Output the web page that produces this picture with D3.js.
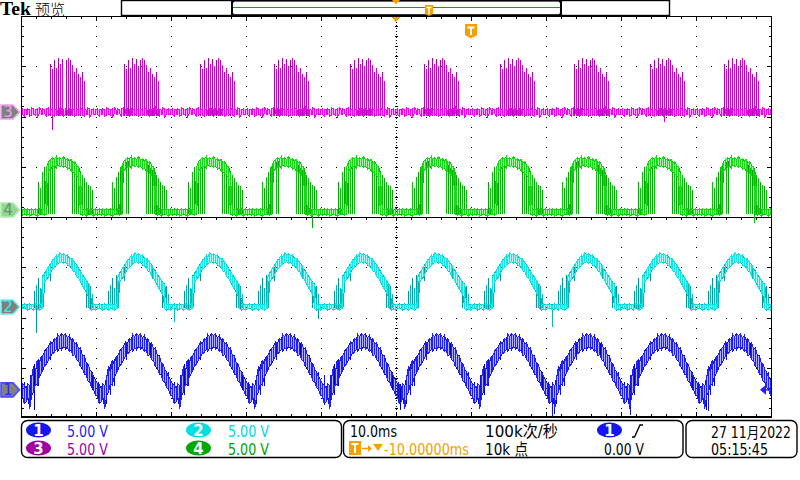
<!DOCTYPE html>
<html><head><meta charset="utf-8">
<script src="https://cdn.jsdelivr.net/npm/d3@7"></script>
<style>html,body{margin:0;padding:0;background:#fff;}svg{display:block}</style>
</head><body><svg id="c" width="800" height="480"></svg>
<script>
// ---------------- DATA ----------------
// time of each waveform cycle start (ms on a 0..100 ms screen, 10 ms/div)
const cycleStartMs = [-9.33, 0.67, 10.67, 20.67, 30.67, 40.67, 50.67, 60.67, 70.67, 80.67, 90.67];
const phaseStepMs = 0.25;               // spacing of samples inside one cycle
const voltsPerDiv = [5, 5, 5, 5];       // CH1..CH4
const channelOffsetDiv = [-3.44, -1.79, 2.09, 0.14]; // ground marker positions (div from centre)

// CH1 (blue) envelope per sample, volts
const ch1Lo = [-1.2,-0.8,-1.9,-0.6,-0.2,0.6,0.5,1.2,1.6,2.0,2.4,2.6,3.0,3.3,3.6,3.7,4.0,3.9,4.2,4.0,4.3,4.1,4.2,3.8,3.9,3.4,3.5,3.0,2.9,2.3,2.2,1.6,1.5,0.9,0.8,0.2,0.1,-0.6,-0.5,-1.4];
const ch1Hi = [0.2,0.6,0.4,1.2,2.4,1.8,3.0,2.6,3.3,3.4,3.9,4.1,4.3,4.8,4.6,5.1,5.0,5.5,5.3,5.6,5.4,5.6,5.2,5.4,5.0,5.1,4.6,4.7,4.1,4.2,3.5,3.4,2.8,2.6,2.0,1.8,1.3,1.0,0.6,0.5];
const ch1Spikes = [[0.6,-1.4,1.5],[1.1,-0.5,2.6],[1.6,0.4,3.1],[3.3,3.0,4.8],[6.6,3.2,4.6],[8.9,0.0,1.8],[9.6,-1.0,0.8]];
const ch1Glitches = [[1.73,-2.0,2.0],[40.3,-1.5,1.5],[50.53,-2.0,0.6],[70.67,-2.6,0.8],[71.07,-2.4,0.4],[81.07,-2.5,1.2],[91.2,-2.0,0.5],[91.6,-2.1,0.8]];

// CH2 (cyan)
const ch2Lo = [-0.2,-0.3,-0.2,-0.2,-0.3,-0.2,-0.2,-0.3,-0.2,-0.2,2.5,2.8,3.0,3.4,3.7,3.9,4.1,4.3,4.4,4.5,4.3,4.5,4.2,4.1,3.9,3.6,3.5,3.0,2.9,2.5,2.2,1.8,1.5,1.2,-0.2,-0.3,-0.2,-0.3,-0.2,-0.2];
const ch2Hi = [0.2,0.2,0.3,0.2,0.2,0.3,0.2,0.2,0.3,3.0,3.4,3.7,4.0,4.3,4.6,4.8,5.1,5.0,5.4,5.2,5.3,5.1,5.2,4.9,4.8,4.7,4.4,4.2,3.8,3.6,3.2,3.0,2.7,2.4,2.2,0.2,0.3,0.2,0.2,0.3];
const ch2Spikes = [[1.0,-0.1,1.6],[1.25,-0.1,2.2],[1.5,-0.2,2.9],[1.75,-0.1,1.9],[2.0,-0.1,3.2],[2.15,-0.1,2.6],[3.1,2.6,4.0],[6.9,2.8,4.0],[8.1,-0.1,2.6],[8.35,-0.1,2.4],[8.6,-0.2,2.1],[8.9,-0.1,1.3]];
const ch2Glitches = [[2.0,-2.6,0.2],[20.27,-1.5,0.2],[39.6,-1.2,0.2],[70.67,-2.0,0.3]];

// CH3 (magenta)
const ch3Lo = [-0.3,-0.2,-0.4,-0.3,-0.2,-0.3,-0.5,-0.2,-0.3,-0.3,-0.2,-0.4,-0.3,-0.2,-0.3,-0.4,-0.2,-0.3,-0.3,-0.2,-0.4,-0.3,-0.2,-0.3,-0.3,-0.2,-0.4,-0.3,-0.3,-0.2,-0.3,-0.4,-0.2,-0.3,-0.5,-0.2,-0.3,-0.3,-0.2,-0.4];
const ch3Hi = [0.2,0.3,0.2,0.4,0.3,0.2,0.3,0.5,0.2,0.3,0.2,0.3,0.4,0.2,0.3,0.2,0.3,0.2,0.4,0.3,0.2,0.3,0.2,0.4,0.3,0.2,0.3,0.2,0.3,0.5,0.2,0.3,0.2,0.4,0.3,0.2,0.3,0.2,0.3,0.2];
const ch3Spikes = [[3.07,-0.4,4.8],[3.33,-0.4,4.3],[3.6,-0.4,5.2],[3.87,-0.4,4.4],[4.13,-0.4,5.4],[4.4,-0.4,4.8],[4.67,-0.4,5.3],[4.93,-0.4,4.6],[5.2,-0.4,5.2],[5.47,-0.4,5.4],[5.73,-0.4,5.2],[6.0,-0.4,4.7],[6.27,-0.4,4.0],[6.53,-0.4,4.4],[6.8,-0.4,3.8],[7.07,-0.4,3.5],[7.33,-0.4,4.0],[7.6,-0.4,3.1]];
const ch3Glitches = [[4.0,-1.8,0.2],[85.6,-1.0,0.3]];

// CH4 (green)
const ch4Lo = [-0.5,-0.4,-0.6,-0.5,-0.4,-0.5,-0.6,-0.5,-0.4,-0.5,-0.5,-0.4,3.8,4.1,4.2,4.4,4.2,4.5,4.3,4.4,4.2,4.4,4.1,4.2,3.9,3.8,3.6,3.4,3.3,-0.4,-0.5,-0.4,-0.6,-0.5,-0.4,-0.5,-0.6,-0.4,-0.5,-0.4];
const ch4Hi = [0.0,0.1,0.0,0.1,0.0,0.1,0.0,0.1,0.0,0.1,0.0,4.3,4.8,5.0,5.2,5.1,5.3,5.1,5.2,5.0,5.3,5.0,5.1,4.9,5.0,4.7,4.8,4.4,4.3,3.6,0.0,0.1,0.0,0.1,0.0,0.1,0.0,0.1,0.0,0.1];
const ch4Spikes = [[1.5,-0.4,2.8],[1.8,-0.4,2.2],[2.0,-0.4,3.3],[2.25,-0.4,3.8],[2.45,-0.4,4.3],[2.65,-0.4,3.9],[2.9,-0.4,4.6],[3.2,-0.4,4.8],[3.45,-0.4,4.5],[3.7,-0.4,4.9],[6.1,-0.4,4.6],[6.35,-0.4,4.5],[6.6,-0.4,4.2],[6.85,-0.4,4.0],[7.1,-0.4,3.9],[7.4,-0.4,3.5],[7.65,-0.4,3.2],[7.9,-0.4,2.8],[8.2,-0.4,2.5],[8.5,-0.4,2.4],[8.75,-0.4,2.0]];
const ch4Glitches = [[38.93,-1.8,0.2],[97.6,-1.3,0.2]];

// readouts
const chLabels = ["1","2","3","4"];
const chScaleText = ["5.00 V","5.00 V","5.00 V","5.00 V"];
const timebaseText = "10.0ms";
const delayText = "-10.00000ms";
const sampleRateText = "100k次/秒";
const recordText = "10k 点";
const trigLevelText = "0.00 V";
const dateText = "27 11月2022";
const timeText = "05:15:45";

// ---------------- DRAWING ----------------
const svg = d3.select('#c');
const X0 = 21, X1 = 771, Y0 = 16, Y1 = 418;
const x = d3.scaleLinear().domain([0, 100]).range([X0, X1]);
const y = d3.scaleLinear().domain([-4, 4]).range([Y1, Y0]);
const FONT = "'DejaVu Sans','Noto Sans CJK SC',sans-serif";

const defs = svg.append('defs');
defs.append('clipPath').attr('id','plotClip').append('rect')
  .attr('x', X0 + 1).attr('y', Y0 + 1).attr('width', X1 - X0 - 1).attr('height', Y1 - Y0 - 2);

// graticule
const grat = svg.append('g').attr('shape-rendering','crispEdges').attr('fill','#000');
const dots = [];
for (let i = 1; i < 10; i++) { if (i === 5) continue; for (let j = 1; j < 40; j++) dots.push([x(10*i), y(-4 + 0.2*j)]); }
for (let j = 1; j < 8; j++) { if (j === 4) continue; for (let i = 1; i < 50; i++) dots.push([x(2*i), y(-4 + j)]); }
grat.selectAll('rect.d').data(dots).join('rect').attr('class','d')
  .attr('x', d => Math.round(d[0])).attr('y', d => Math.round(d[1])).attr('width',1).attr('height',1);
// edge ticks
const edge = [];
for (let j = 1; j < 40; j++) {
  const yy = Math.round(y(-4 + 0.2*j)); const L = (j % 5 === 0) ? 4 : 2;
  edge.push([X0+1, yy, L, 1]); edge.push([X1-L, yy, L, 1]);
  edge.push([x(50)-1, yy, 3, 1]);
}
for (let i = 1; i < 50; i++) {
  const xx = Math.round(x(2*i)); const L = (i % 5 === 0) ? 4 : 2;
  edge.push([xx, Y0+1, 1, L]); edge.push([xx, Y1-2-L, 1, L]);
  edge.push([xx, Math.round(y(0))+1, 1, 2]);
}
grat.selectAll('rect.e').data(edge).join('rect').attr('class','e')
  .attr('x', d => d[0]).attr('y', d => d[1]).attr('width', d => d[2]).attr('height', d => d[3]);
grat.append('line').attr('x1', X0).attr('x2', X1).attr('y1', Math.round(y(0))+0.5).attr('y2', Math.round(y(0))+0.5)
  .attr('stroke','#000').attr('stroke-width',1);
grat.append('line').attr('x1', x(50)+0.5).attr('x2', x(50)+0.5).attr('y1', Y0).attr('y2', Y1)
  .attr('stroke','#000').attr('stroke-width',1).attr('stroke-dasharray','1,2');
// frame
grat.append('line').attr('x1',X0+0.5).attr('x2',X0+0.5).attr('y1',Y0).attr('y2',Y1).attr('stroke','#000');
grat.append('line').attr('x1',X1+0.5).attr('x2',X1+0.5).attr('y1',Y0).attr('y2',Y1).attr('stroke','#000');
grat.append('line').attr('x1',X0).attr('x2',X1+1).attr('y1',Y0+0.5).attr('y2',Y0+0.5).attr('stroke','#000');
grat.append('line').attr('x1',X0).attr('x2',X1+1).attr('y1',Y1-1).attr('y2',Y1-1).attr('stroke','#000').attr('stroke-width',2);

// traces
const channels = [
  {lo: ch1Lo, hi: ch1Hi, spikes: ch1Spikes, glitches: ch1Glitches, bright:'#2020ff', dark:'#0000b4', mid:'#1010e0', dense:true},
  {lo: ch2Lo, hi: ch2Hi, spikes: ch2Spikes, glitches: ch2Glitches, bright:'#14e6e6', dark:'#009a9a', mid:'#00bcbc', dense:true},
  {lo: ch3Lo, hi: ch3Hi, spikes: ch3Spikes, glitches: ch3Glitches, bright:'#f400f4', dark:'#b400b4', mid:'#dc00dc', dense:false},
  {lo: ch4Lo, hi: ch4Hi, spikes: ch4Spikes, glitches: ch4Glitches, bright:'#14dc14', dark:'#00a800', mid:'#00c800', dense:true}
];
const traces = svg.append('g').attr('clip-path','url(#plotClip)');
const order = [0, 1, 3, 2];
const snapX = v => 2 * Math.round(v / 2);   // whole, even pixel columns
order.forEach(ci => {
  const ch = channels[ci];
  const vy = v => y(channelOffsetDiv[ci] + v / voltsPerDiv[ci]);
  const g = traces.append('g');
  // samples of the envelope across the screen
  const samples = [];
  cycleStartMs.forEach(t0 => ch.lo.forEach((lo, i) => {
    const t = t0 + i * phaseStepMs;
    if (t >= -0.6 && t <= 100.6) samples.push({t, lo, hi: ch.hi[i]});
  }));
  // faint filled envelope (trace persistence)
  g.append('path').datum(samples)
    .attr('d', d3.area().x(d => x(d.t)).y0(d => vy(d.lo)).y1(d => vy(d.hi)))
    .attr('fill', ch.bright).attr('fill-opacity', 0.35).attr('stroke', 'none');
  // spikes (lower intensity colour), drawn as 1px rects
  const sp = [];
  cycleStartMs.forEach(t0 => ch.spikes.forEach(s => { const t = t0 + s[0]; if (t >= 0 && t <= 100) sp.push([t, s[1], s[2]]); }));
  ch.glitches.forEach(gl => sp.push(gl));
  g.selectAll('rect').data(sp).join('rect')
    .attr('x', d => snapX(x(d[0]))).attr('width', 1)
    .attr('y', d => Math.round(Math.min(vy(d[1]), vy(d[2]))))
    .attr('height', d => Math.max(1, Math.round(Math.abs(vy(d[1]) - vy(d[2])))))
    .attr('fill', (d, i) => i % 2 ? ch.mid : ch.dark);
  // envelope zig-zag
  const mk = parity => {
    const pts = [];
    samples.forEach((s, n) => {
      const a = vy(s.lo), b = vy(s.hi), xx = x(s.t);
      if ((n + parity) % 2 === 0) pts.push([xx, a], [xx, b]); else pts.push([xx, b], [xx, a]);
    });
    return d3.line()(pts);
  };
  if (ch.dense) {
    g.append('path').attr('d', mk(1)).attr('fill','none').attr('stroke', ch.mid).attr('stroke-width', 1)
      .attr('shape-rendering','crispEdges');
  }
  g.append('path').attr('d', mk(0)).attr('fill','none').attr('stroke', ch.bright).attr('stroke-width', 1)
    .attr('shape-rendering','crispEdges');
});

// channel ground markers (left)
const markerStyle = [
  {fill:'#808080', stroke:'#4a4aff', text:'#2a2aff'},
  {fill:'#808080', stroke:'#70f0f0', text:'#30f0f0'},
  {fill:'#808080', stroke:'#f0a0f0', text:'#f0a0f0'},
  {fill:'#90d890', stroke:'#b0eab0', text:'#6e8e6e'}
];
chLabels.forEach((lab, ci) => {
  const yy = y(channelOffsetDiv[ci]);
  const st = markerStyle[ci];
  svg.append('path').attr('d', `M1,${yy-7} H13 L19.5,${yy} L13,${yy+7} H1 Z`)
    .attr('fill', st.fill).attr('stroke', st.stroke).attr('stroke-width', 1.6);
  svg.append('text').attr('x', 8).attr('y', yy + 5.5).attr('text-anchor','middle')
    .attr('font-family', FONT).attr('font-size', 15).attr('fill', st.text).text(lab);
});
// trigger level arrow (right, CH1)
{
  const yy = y(channelOffsetDiv[0]);
  svg.append('path').attr('d', `M760,${yy} L766,${yy-5} L766,${yy+5} Z`).attr('fill','#2020ff');
  svg.append('line').attr('x1',765).attr('x2',771).attr('y1',yy).attr('y2',yy).attr('stroke','#2020ff').attr('stroke-width',1.5);
}

// ---------------- top bar ----------------
const ORANGE = '#f5a000';
svg.append('text').attr('x', 0).attr('y', 15).attr('font-family',"'Liberation Serif',serif").attr('font-weight','bold')
  .attr('font-size', 18).attr('textLength', 31).attr('lengthAdjust','spacingAndGlyphs').attr('fill','#000').text('Tek');
svg.append('text').attr('x', 35).attr('y', 15).attr('font-family',"'Noto Sans CJK SC',sans-serif")
  .attr('font-size', 15).attr('font-weight', 300).attr('fill','#000').text('预览');
svg.append('rect').attr('x',121.5).attr('y',0.5).attr('width',548).attr('height',15).attr('fill','none').attr('stroke','#000').attr('stroke-width',1.4);
svg.append('line').attr('x1',233).attr('x2',560).attr('y1',7.5).attr('y2',7.5).attr('stroke','#1a9a1a').attr('stroke-width',1);
svg.append('path').attr('d','M234,1.5 H232 V14.5 H234').attr('fill','none').attr('stroke','#000').attr('stroke-width',2);
svg.append('path').attr('d','M559,1.5 H561 V14.5 H559').attr('fill','none').attr('stroke','#000').attr('stroke-width',2);
svg.append('line').attr('x1',232).attr('x2',561).attr('y1',0.8).attr('y2',0.8).attr('stroke','#000').attr('stroke-width',1.4);
svg.append('line').attr('x1',232).attr('x2',561).attr('y1',15).attr('y2',15).attr('stroke','#000').attr('stroke-width',1.4);
// small trigger marker in record view
svg.append('path').attr('d','M425,5 H433 V14 L429,16 L425,14 Z').attr('fill',ORANGE);
svg.append('path').attr('d','M426.5,7.5 H431.5 M429,7.5 V14').attr('stroke','#fff').attr('stroke-width',1.5);
// position triangles
svg.append('path').attr('d','M392,0 H400 L396,4.5 Z').attr('fill',ORANGE);
svg.append('path').attr('d','M391.5,17 H400.5 L396,22 Z').attr('fill',ORANGE);
// large T badge
svg.append('path').attr('d','M465,24 H477 V35 L471,38.5 L465,35 Z').attr('fill',ORANGE);
svg.append('path').attr('d','M467.5,27.5 H474.5 M471,27.5 V35').attr('stroke','#fff').attr('stroke-width',2);

// ---------------- bottom readouts ----------------
const box = (x0, x1) => svg.append('rect').attr('x', x0).attr('y', 420.5).attr('width', x1 - x0).attr('height', 37)
  .attr('rx', 6).attr('fill','none').attr('stroke','#000').attr('stroke-width',1.4);
box(21.5, 341.5); box(343.5, 683); box(686, 797);

function txt(str, x0, yb, w, color, size) {
  return svg.append('text').attr('x', x0).attr('y', yb).attr('font-family', FONT).attr('font-size', size || 16)
    .attr('fill', color).attr('textLength', w).attr('lengthAdjust','spacingAndGlyphs').text(str);
}
function badge(lab, cx, cy, fill) {
  svg.append('ellipse').attr('cx', cx).attr('cy', cy).attr('rx', 12.5).attr('ry', 7.5).attr('fill', fill);
  svg.append('text').attr('x', cx).attr('y', cy + 5.5).attr('text-anchor','middle').attr('font-family', FONT)
    .attr('font-weight','bold').attr('font-size', 15).attr('fill','#fff').text(lab);
}
const badgeColors = ['#1616f0','#00e0e0','#a000a0','#00a800'];
const textColors = ['#2424f4','#00d8d8','#a000a0','#00a000'];
const badgePos = [[38.5, 430], [198.5, 430], [38.5, 448], [198.5, 448]];
const textPos = [[67, 437], [228, 437], [67, 455], [228, 455]];
chLabels.forEach((lab, i) => {
  badge(lab, badgePos[i][0], badgePos[i][1], badgeColors[i]);
  txt(chScaleText[i], textPos[i][0], textPos[i][1], 41, textColors[i]);
});
txt(timebaseText, 350, 437, 47, '#000');
svg.append('rect').attr('x', 349).attr('y', 441).attr('width', 12).attr('height', 14).attr('fill', ORANGE);
svg.append('path').attr('d','M351.5,444 H358.5 M355,444 V453').attr('stroke','#fff').attr('stroke-width',2);
svg.append('path').attr('d','M362,448.5 H370').attr('stroke',ORANGE).attr('stroke-width',1.5);
svg.append('path').attr('d','M368,445 L372,448.5 L368,452 Z').attr('fill',ORANGE);
svg.append('path').attr('d','M373,444 H383 L378,451 Z').attr('fill',ORANGE);
txt(delayText, 384, 455, 85, ORANGE);
txt(sampleRateText, 485, 437, 73, '#000');
txt(recordText, 485, 455, 43, '#000');
badge('1', 609.5, 430, '#1616f0');
svg.append('path').attr('d','M632,437 H634.5 L640,425 H643').attr('fill','none').attr('stroke','#000').attr('stroke-width',1.3);
txt(trigLevelText, 604, 455, 40, '#000');
txt(dateText, 711, 437.5, 80, '#000', 15);
txt(timeText, 711, 455, 57, '#000');
</script></body></html>
